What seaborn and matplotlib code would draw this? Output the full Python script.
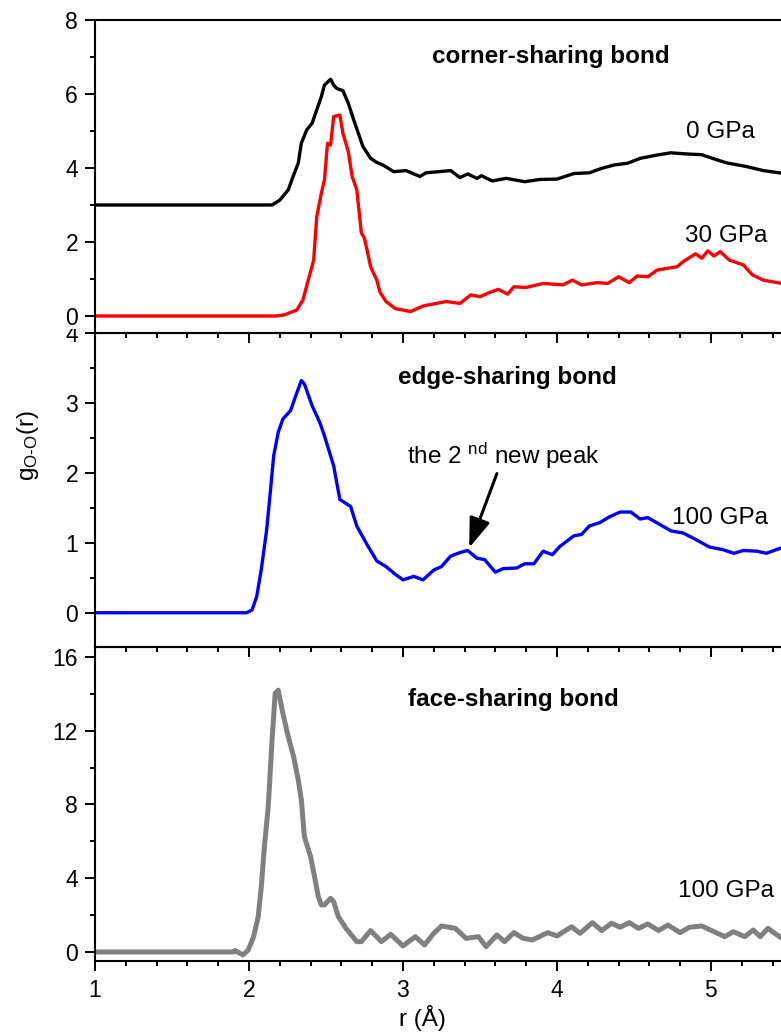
import numpy as np
import pandas as pd
import matplotlib
matplotlib.use("Agg")
import matplotlib.pyplot as plt
from matplotlib.transforms import Bbox, TransformedBbox
import seaborn as sns

# ---------------- data ----------------
r_0gpa = [1.0, 2.15, 2.20, 2.255, 2.29, 2.32, 2.34, 2.375, 2.41, 2.44,
          2.47, 2.49, 2.53, 2.55, 2.57, 2.61, 2.645, 2.68, 2.71, 2.74,
          2.79, 2.83, 2.87, 2.94, 3.02, 3.11, 3.15, 3.31, 3.37, 3.42,
          3.48, 3.51, 3.58, 3.67, 3.79, 3.89, 4.00, 4.11, 4.21, 4.29,
          4.37, 4.46, 4.54, 4.65, 4.74, 4.84, 4.94, 5.01, 5.10, 5.23,
          5.34, 5.46]
g_0gpa = [3.0, 3.0, 3.13, 3.41, 3.81, 4.13, 4.67, 5.03, 5.21, 5.57,
          5.93, 6.24, 6.40, 6.24, 6.15, 6.09, 5.75, 5.30, 4.94, 4.58,
          4.26, 4.15, 4.08, 3.90, 3.93, 3.77, 3.87, 3.93, 3.74, 3.84,
          3.72, 3.79, 3.65, 3.72, 3.63, 3.69, 3.70, 3.85, 3.87, 3.99,
          4.08, 4.13, 4.26, 4.35, 4.41, 4.38, 4.36, 4.26, 4.14, 4.04,
          3.93, 3.86]

r_30gpa = [1.0, 2.18, 2.23, 2.31, 2.35, 2.385, 2.42, 2.44, 2.47, 2.49,
           2.51, 2.53, 2.55, 2.59, 2.61, 2.645, 2.67, 2.70, 2.73, 2.75,
           2.79, 2.83, 2.85, 2.89, 2.95, 3.05, 3.13, 3.28, 3.37, 3.44,
           3.50, 3.56, 3.62, 3.68, 3.72, 3.80, 3.91, 4.04, 4.10, 4.16,
           4.26, 4.33, 4.40, 4.47, 4.52, 4.59, 4.65, 4.72, 4.78, 4.82,
           4.90, 4.94, 4.98, 5.02, 5.06, 5.12, 5.21, 5.27, 5.34, 5.46]
g_30gpa = [0, 0, 0.03, 0.16, 0.43, 0.97, 1.51, 2.68, 3.32, 3.68,
           4.67, 4.62, 5.39, 5.43, 4.94, 4.44, 3.77, 3.41, 2.24, 2.10,
           1.33, 0.97, 0.65, 0.39, 0.20, 0.12, 0.27, 0.39, 0.34, 0.57,
           0.52, 0.63, 0.72, 0.59, 0.79, 0.77, 0.88, 0.84, 0.97, 0.84,
           0.90, 0.88, 1.06, 0.90, 1.08, 1.06, 1.24, 1.29, 1.33, 1.47,
           1.68, 1.56, 1.76, 1.62, 1.74, 1.51, 1.38, 1.11, 0.97, 0.88]

r_edge = [1.0, 1.90, 1.985, 2.02, 2.05, 2.08, 2.115, 2.14, 2.16, 2.19,
          2.22, 2.27, 2.30, 2.34, 2.36, 2.41, 2.46, 2.49, 2.55, 2.59,
          2.66, 2.70, 2.76, 2.83, 2.89, 2.95, 3.00, 3.07, 3.13, 3.20,
          3.25, 3.31, 3.37, 3.42, 3.48, 3.53, 3.60, 3.65, 3.74, 3.79,
          3.85, 3.91, 3.97, 4.02, 4.11, 4.16, 4.21, 4.28, 4.34, 4.41,
          4.48, 4.54, 4.59, 4.67, 4.74, 4.82, 4.89, 4.99, 5.08, 5.15,
          5.21, 5.30, 5.36, 5.46]
g_edge = [0, 0.0, 0.0, 0.04, 0.23, 0.62, 1.19, 1.76, 2.24, 2.58,
          2.77, 2.89, 3.08, 3.32, 3.27, 2.96, 2.72, 2.53, 2.10, 1.62,
          1.52, 1.24, 1.00, 0.74, 0.66, 0.55, 0.47, 0.52, 0.47, 0.61,
          0.66, 0.81, 0.86, 0.89, 0.78, 0.76, 0.58, 0.63, 0.64, 0.70,
          0.70, 0.88, 0.83, 0.95, 1.10, 1.12, 1.24, 1.29, 1.37, 1.44,
          1.44, 1.34, 1.36, 1.26, 1.17, 1.14, 1.06, 0.94, 0.90, 0.85,
          0.89, 0.88, 0.85, 0.93]

r_face = [1.0, 1.90, 1.91, 1.96, 1.995, 2.03, 2.06, 2.08, 2.10, 2.125,
          2.15, 2.17, 2.19, 2.22, 2.255, 2.29, 2.32, 2.34, 2.36, 2.40,
          2.43, 2.45, 2.47, 2.49, 2.53, 2.55, 2.58, 2.63, 2.70, 2.73,
          2.79, 2.86, 2.92, 3.00, 3.08, 3.14, 3.20, 3.25, 3.34, 3.41,
          3.49, 3.54, 3.61, 3.66, 3.72, 3.78, 3.84, 3.94, 4.00, 4.095,
          4.15, 4.23, 4.29, 4.355, 4.41, 4.47, 4.53, 4.59, 4.66, 4.72,
          4.80, 4.86, 4.94, 5.02, 5.09, 5.145, 5.22, 5.275, 5.32, 5.37,
          5.46]
g_face = [0, 0, 0.08, -0.16, 0.1, 0.83, 1.92, 3.54, 5.71, 7.88,
          11.5, 14.03, 14.2, 12.94, 11.67, 10.59, 9.33, 8.24, 6.25, 5.17,
          3.90, 3.0, 2.55, 2.55, 2.91, 2.73, 1.92, 1.28, 0.56, 0.56,
          1.16, 0.56, 0.96, 0.33, 0.83, 0.38, 1.01, 1.41, 1.28, 0.74,
          0.83, 0.29, 0.92, 0.56, 1.05, 0.74, 0.65, 1.05, 0.87, 1.37,
          1.01, 1.59, 1.16, 1.56, 1.34, 1.59, 1.28, 1.52, 1.16, 1.46,
          1.05, 1.34, 1.41, 1.10, 0.83, 1.10, 0.83, 1.19, 0.83, 1.28,
          0.74]

x_ticks = [1, 2, 3, 4, 5]
panel_titles = ["corner-sharing bond", "edge-sharing bond", "face-sharing bond"]
pressure_labels = ["0 GPa", "30 GPa", "100 GPa", "100 GPa"]

# ---------------- style ----------------
sns.set_style("ticks")
plt.rcParams['font.family'] = ['Liberation Sans', 'DejaVu Sans']
plt.rcParams['mathtext.default'] = 'regular'
plt.rcParams['text.color'] = 'black'
plt.rcParams['axes.labelcolor'] = 'black'
plt.rcParams['xtick.color'] = 'black'
plt.rcParams['ytick.color'] = 'black'

W, H = 781, 1033
fig = plt.figure(figsize=(W / 100, H / 100), dpi=100)

left = 95 / W
right = 1.0
bounds_px = [(20, 333), (333, 647), (647, 961)]
axes = []
for top_px, bot_px in bounds_px:
    ax = fig.add_axes([left, 1 - bot_px / H, right - left, (bot_px - top_px) / H])
    axes.append(ax)
ax1, ax2, ax3 = axes

TICK_FS = 16.5
for ax in axes:
    ax.set_facecolor('none')
    for s in ['left', 'bottom', 'top']:
        ax.spines[s].set_linewidth(1.5)
        ax.spines[s].set_color('black')
    ax.spines['right'].set_visible(False)
    ax.set_xlim(1, 5.455)
    ax.set_xticks(x_ticks)
    ax.set_xticks(np.arange(1.0, 5.46, 0.2), minor=True)
    ax.tick_params(axis='both', which='major', direction='out', length=7.2,
                   width=1.4, colors='black', labelsize=TICK_FS, pad=5,
                   labelcolor='black')
    ax.tick_params(axis='both', which='minor', direction='out', length=3.6,
                   width=1.4, colors='black')
    ax.tick_params(axis='x', top=False, right=False)

for ax in (ax1, ax2):
    ax.tick_params(axis='x', labelbottom=False)
ax3.tick_params(axis='x', pad=6)

# panel 1
df0 = pd.DataFrame({'r': r_0gpa, 'g': g_0gpa})
df30 = pd.DataFrame({'r': r_30gpa, 'g': g_30gpa})
sns.lineplot(data=df0, x='r', y='g', ax=ax1, color='black', lw=2.4, estimator=None, sort=False)
sns.lineplot(data=df30, x='r', y='g', ax=ax1, color='#ff0000', lw=2.4, estimator=None, sort=False)
ax1.set_ylim(-0.46, 8)
ax1.set_yticks([0, 2, 4, 6, 8])
ax1.set_yticks([1, 3, 5, 7], minor=True)

# panel 2
dfe = pd.DataFrame({'r': r_edge, 'g': g_edge})
sns.lineplot(data=dfe, x='r', y='g', ax=ax2, color='#0000ff', lw=2.4, estimator=None, sort=False)
ax2.set_ylim(-0.49, 4)
ax2.set_yticks([0, 1, 2, 3, 4])
ax2.set_yticks([0.5, 1.5, 2.5, 3.5], minor=True)

# panel 3
dff = pd.DataFrame({'r': r_face, 'g': g_face})
sns.lineplot(data=dff, x='r', y='g', ax=ax3, color='#808080', lw=3.6, estimator=None, sort=False)
ax3.set_ylim(-0.49, 16.54)
ax3.set_yticks([0, 4, 8, 12, 16])
ax3.set_yticks([2, 6, 10, 14], minor=True)
ax3.set_xticklabels([str(t) for t in x_ticks])

for ax in axes:
    ax.set_xlabel('')
    ax.set_ylabel('')

# the top "4" of the middle panel is partly hidden under panel 1's "0", as in the reference
clip_top = 1 - 329 / H
clip_box = TransformedBbox(Bbox([[0, 0], [left, clip_top]]), fig.transFigure)
for tk in ax2.yaxis.get_major_ticks():
    tk.label1.set_clip_on(True)
    tk.label1.set_clip_box(clip_box)

TXT_FS = 17.5
BOLD_FS = 17.5
ax1.text(3.96, 7.0, panel_titles[0], ha='center', va='center', fontsize=BOLD_FS, fontweight='bold')
ax1.text(5.06, 4.97, pressure_labels[0], ha='center', va='center', fontsize=TXT_FS)
ax1.text(5.10, 2.16, pressure_labels[1], ha='center', va='center', fontsize=TXT_FS)

ax2.text(3.68, 3.36, panel_titles[1], ha='center', va='center', fontsize=BOLD_FS, fontweight='bold')
ax2.text(5.06, 1.36, pressure_labels[2], ha='center', va='center', fontsize=TXT_FS)
ax2.text(3.65, 2.24, 'the 2 $^{nd}$ new peak', ha='center', va='center', fontsize=TXT_FS)
ax2.annotate('', xy=(3.43, 0.93), xytext=(3.61, 1.99),
             arrowprops=dict(arrowstyle='-|>,head_length=0.9,head_width=0.32',
                             color='black', lw=2.2, mutation_scale=20,
                             shrinkA=0, shrinkB=0))

ax3.text(3.72, 13.7, panel_titles[2], ha='center', va='center', fontsize=BOLD_FS, fontweight='bold')
ax3.text(5.10, 3.3, pressure_labels[3], ha='center', va='center', fontsize=TXT_FS)

fig.text(28 / W, 1 - 445 / H, r'g$_{O‐O}$(r)', rotation=90, ha='center', va='center', fontsize=TXT_FS)
fig.text(422 / W, 1 - 1018 / H, 'r (Å)', ha='center', va='center', fontsize=TXT_FS)

fig.savefig('out.png', dpi=100)
